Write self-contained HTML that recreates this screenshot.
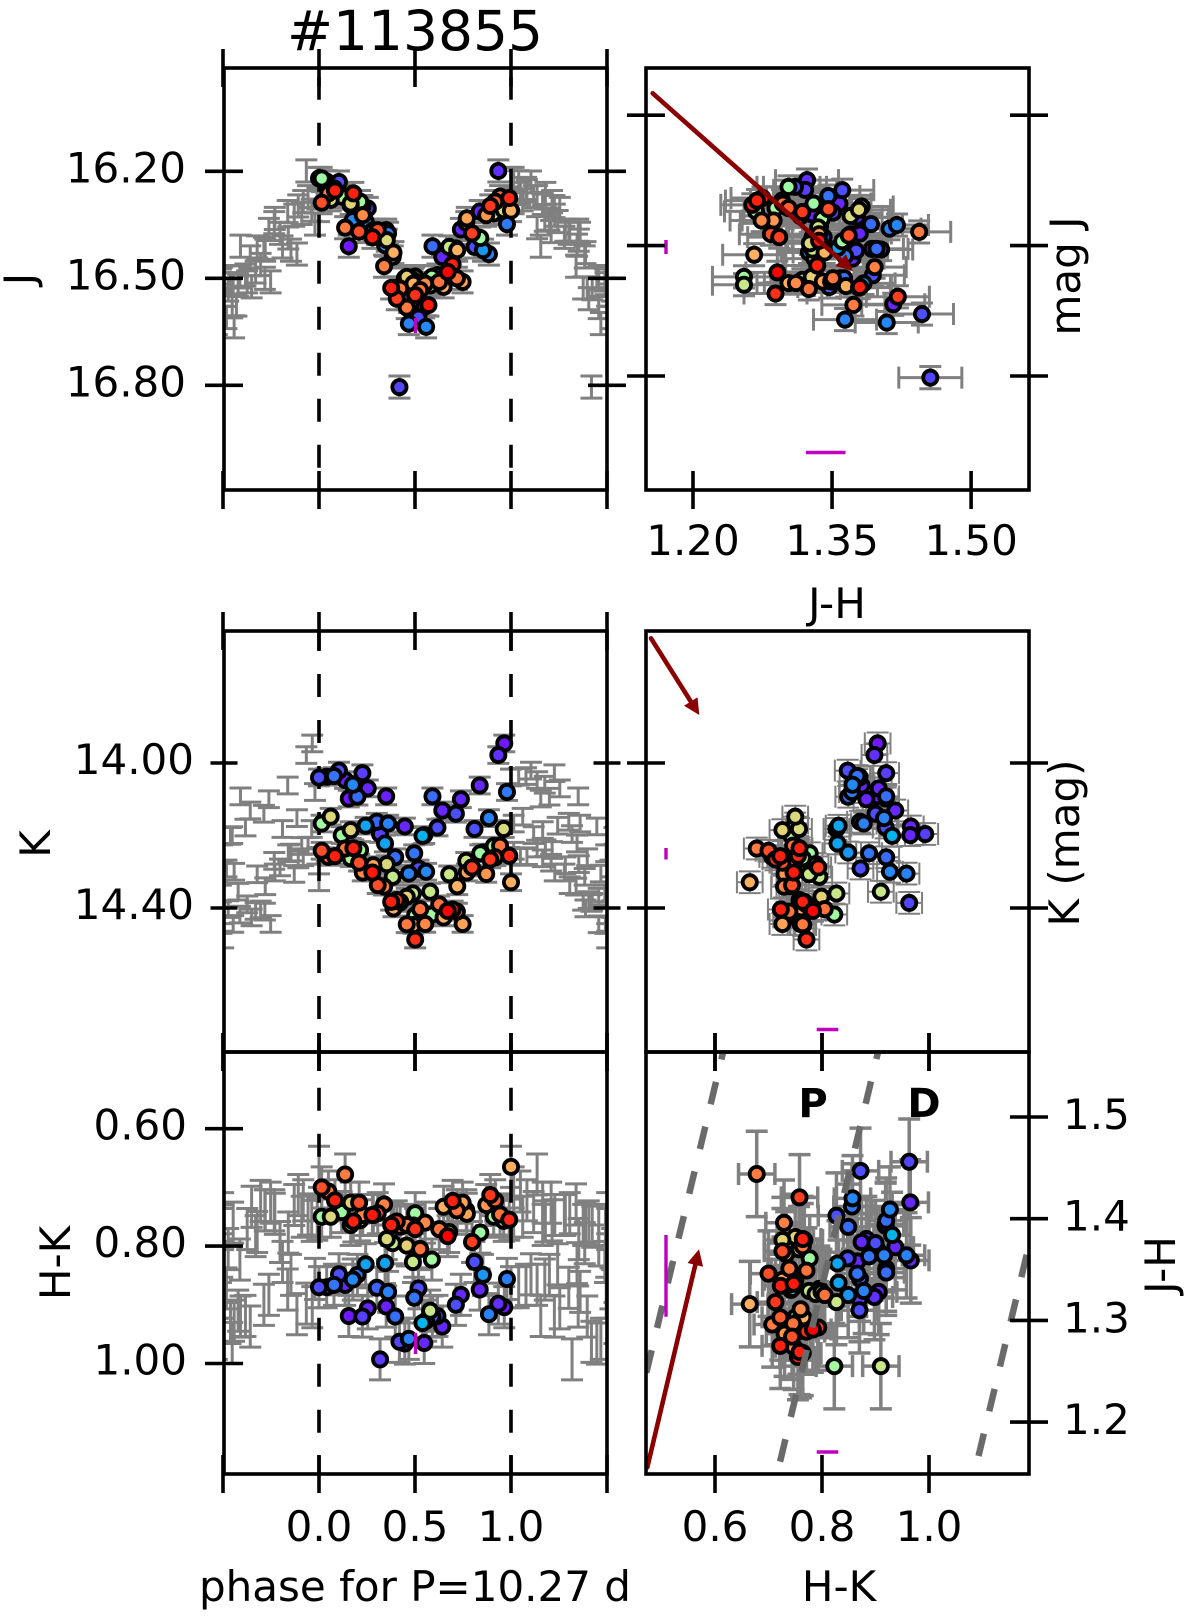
<!DOCTYPE html>
<html lang="en">
<head>
<meta charset="utf-8">
<title>#113855</title>
<style>
html,body{margin:0;padding:0;background:#fff;}
svg{display:block;}
text{font-family:"DejaVu Sans","Liberation Sans",sans-serif;fill:#000;}
</style>
</head>
<body>
<svg id="chart" xmlns="http://www.w3.org/2000/svg" width="1200" height="1620" viewBox="0 0 1200 1620">
<defs>
<clipPath id="c-tl"><rect x="224" y="68" width="383" height="422"/></clipPath>
<clipPath id="c-tr"><rect x="646" y="68" width="383" height="422"/></clipPath>
<clipPath id="c-ml"><rect x="224" y="631" width="383" height="421"/></clipPath>
<clipPath id="c-mr"><rect x="646" y="631" width="383" height="421"/></clipPath>
<clipPath id="c-bl"><rect x="224" y="1052" width="383" height="422"/></clipPath>
<clipPath id="c-br"><rect x="646" y="1052" width="383" height="422"/></clipPath>
</defs>
<rect x="0" y="0" width="1200" height="1620" fill="#fff"/>
<text x="415" y="50" font-size="55" text-anchor="middle">#113855</text>
<text transform="translate(34,279) rotate(-90)" font-size="42" text-anchor="middle">J</text>
<text transform="translate(50,844) rotate(-90)" font-size="42" text-anchor="middle">K</text>
<text transform="translate(70,1263) rotate(-90)" font-size="42" text-anchor="middle">H-K</text>
<text transform="translate(1080,276) rotate(-90)" font-size="42" text-anchor="middle">mag J</text>
<text transform="translate(1079,843) rotate(-90)" font-size="42" text-anchor="middle">K (mag)</text>
<text transform="translate(1175,1265) rotate(-90)" font-size="42" text-anchor="middle">J-H</text>
<text x="837" y="618" font-size="42" text-anchor="middle">J-H</text>
<text x="839" y="1601" font-size="42" text-anchor="middle">H-K</text>
<text x="415" y="1601" font-size="42" text-anchor="middle">phase for P=10.27 d</text>
<g id="plots"></g>
</svg>
<script>
// Observations (one entry per epoch)
const obsPhase = [0.000,.040,.078,.104,.136,.176,.226,.254,.200,.155,.350,.591,.642,.739,.713,.837,.934,.965,.979,
.061,.014,.118,.165,.243,.301,.360,.318,.344,.447,.617,.539,.496,.810,.885,.962,.397,.468,.518,.558,.854,.767,.678,.720,.797,.770,.871,.892,.943,.991,.918,1.000,
.014,.083,.049,.136,.179,.214,.209,.278,.283,.353,.384,.228,.165,.306,.339,.376,.388,.423,.457,.489,.579,.626,.670,.718,.748,.649,.588,.527,.501,.553,.457,.501,
.840,.910,.696,.548,.419,.570,.405,.492];
const obsJ = [16.220,16.229,16.248,16.230,16.271,16.337,16.299,16.304,16.334,16.410,16.365,16.410,16.440,16.363,16.416,16.313,16.199,null,16.348,
16.280,16.220,16.271,16.290,16.341,16.374,16.374,null,16.407,16.500,16.491,16.516,16.500,16.412,16.432,16.309,16.527,16.627,16.610,16.636,16.421,16.344,16.412,16.421,16.374,16.332,16.323,16.297,16.271,16.275,16.285,16.310,
16.288,16.254,16.262,16.358,16.262,16.285,16.369,16.385,16.365,16.393,16.440,16.323,16.295,16.365,16.466,16.527,16.428,16.529,16.496,16.505,16.520,16.510,16.482,16.500,16.510,16.524,16.496,16.533,16.495,16.515,16.582,16.547,
16.387,16.318,16.461,16.580,16.805,16.575,16.557,16.515];
const obsK = [14.040,14.038,14.036,14.021,14.047,14.060,14.028,14.070,14.093,14.098,14.092,14.092,14.131,14.100,14.140,14.062,13.978,13.946,14.080,
14.148,14.167,14.199,14.185,14.173,14.162,14.167,14.196,14.222,14.175,14.178,14.201,14.249,14.182,14.152,14.182,14.260,14.305,14.291,14.300,14.247,14.270,14.307,14.340,14.288,14.302,14.306,14.266,14.228,14.256,14.260,14.329,
14.242,14.257,14.259,14.236,14.235,14.240,14.275,14.302,14.282,14.279,14.314,14.302,14.263,14.337,14.341,14.383,14.401,14.383,14.369,14.360,14.355,14.390,14.408,14.410,14.444,14.426,14.418,14.403,14.420,14.444,14.445,14.487,
14.249,14.229,14.404,14.199,14.386,null,14.378,14.447];
const obsHK = [.870,.870,.866,.848,.866,.857,.920,.906,.849,.919,.903,.920,.937,.883,.900,.874,.898,.904,.856,
.750,.750,.742,.726,.831,.871,.878,.993,.829,.966,.919,.931,.888,.827,.916,.757,.920,.958,.872,.927,.849,.739,.776,.739,.793,.745,.730,.713,.746,.755,.722,.665,
.700,.722,.707,.678,.758,.756,.726,.747,.747,.788,.795,.747,.764,.744,.729,.764,.761,.767,.799,.827,.910,.771,.783,.739,.726,.733,.823,.805,.744,.760,.764,.771,
.777,.750,.723,.965,.963,null,.758,.765];
const obsColor = [.10,.08,.15,.10,.05,.18,.08,.05,.14,.03,.04,.14,.05,.05,.10,.05,.06,.03,.16,
.68,.56,.56,.69,.22,.13,.17,.08,.22,.05,.10,.25,.15,.10,.17,.67,.14,.17,.10,.18,.20,.65,.64,.75,.92,.78,.80,.93,.85,.95,.88,.76,
.90,.96,.84,.84,.96,.58,.90,.97,.78,.68,.63,.82,.60,.90,.83,.96,.76,.84,.70,.64,.64,.85,1.0,.85,.78,.76,.57,.85,.57,.82,.84,.94,
.56,.58,.96,.05,.09,.97,.92,.76];

// Tick values
const phaseTicks = [-0.5,0,0.5,1,1.5];
const phaseTickLabels = ['','0.0','0.5','1.0',''];
const jTicks = [16.2,16.5,16.8];
const jTickLabels = ['16.20','16.50','16.80'];
const kTicks = [14.0,14.4];
const kTickLabels = ['14.00','14.40'];
const hkTicks = [0.6,0.8,1.0];
const hkTickLabels = ['0.60','0.80','1.00'];
const hkShortLabels = ['0.6','0.8','1.0'];
const jhTicks = [1.2,1.35,1.5];
const jhTickLabels = ['1.20','1.35','1.50'];
const jhRightTicks = [1.5,1.4,1.3,1.2];
const jhRightLabels = ['1.5','1.4','1.3','1.2'];
const cmdJTicks = [16.0,16.4,16.8];

// Typical uncertainties
const jErr = 0.031;
const kErr = 0.023;
const hkErr = 0.035;
const cmdJhErr = 0.034;
const cmdJErr = 0.034;
const cmdKErr = 0.030;
const cmdHkErr = 0.024;
const ccdHkErr = 0.034;
const ccdJhErr = 0.042;

// Boundary lines of the colour-colour diagram: [H-K, J-H] end points
const ccdLineA = [[0.6219,1.5785],[0.4600,1.2230]];
const ccdLineB = [[0.9116,1.5790],[0.7100,1.1355]];
const ccdLineC = [[1.1826,1.3646],[1.0900,1.1610]];

// Axis functions
const xPhase = v => 319 + v * 192;
const yJ = v => 171.3 + (v - 16.2) * 356.7;
const yK = v => 763 + (v - 14) * 362.5;
const yHK = v => 1128.7 + (v - 0.6) * 587;
const xJH = v => 693 + (v - 1.2) * 927;
const yCmdJ = v => 376 + (v - 16.8) * 326;
const xHK = v => 715 + (v - 0.6) * 535;
const yJH = v => 1117 + (1.5 - v) * 1017;

const NS = 'http://www.w3.org/2000/svg';
const root = document.getElementById('plots');
function mk(parent, tag, attrs) {
  const el = document.createElementNS(NS, tag);
  for (const k in attrs) el.setAttribute(k, attrs[k]);
  parent.appendChild(el);
  return el;
}
function rainbow(c) {
  const r = Math.min(1, Math.abs(2 * c - 0.5));
  const g = Math.sin(Math.PI * c);
  const b = Math.cos(Math.PI * c / 2);
  return 'rgb(' + Math.round(r * 255) + ',' + Math.round(g * 255) + ',' + Math.round(b * 255) + ')';
}
const order = obsColor.map((c, i) => i).sort((a, b) => obsColor[a] - obsColor[b]);
const GREY = '#808080';
const AXW = 3.6;

function errPath(cx, cy, dx, dy, cap) {
  let d = '';
  if (dy > 0) {
    d += 'M' + cx + ' ' + (cy - dy) + 'V' + (cy + dy);
    d += 'M' + (cx - cap) + ' ' + (cy - dy) + 'H' + (cx + cap);
    d += 'M' + (cx - cap) + ' ' + (cy + dy) + 'H' + (cx + cap);
  }
  if (dx > 0) {
    d += 'M' + (cx - dx) + ' ' + cy + 'H' + (cx + dx);
    d += 'M' + (cx - dx) + ' ' + (cy - cap) + 'V' + (cy + cap);
    d += 'M' + (cx + dx) + ' ' + (cy - cap) + 'V' + (cy + cap);
  }
  return d;
}
function drawMarker(g, cx, cy, c) {
  const m = mk(g, 'circle', {cx: cx, cy: cy, r: 7.1, fill: rainbow(c), stroke: '#000', 'stroke-width': 3.8});
  
  
}
function makePanel(name, clip) {
  const g = mk(root, 'g', {});
  
  
  const inner = mk(g, 'g', {'clip-path': 'url(#' + clip + ')'});
  
  
  return {g: g, inner: inner};
}
function frame(g, x0, y0, x1, y1) {
  const r = mk(g, 'rect', {x: x0, y: y0, width: x1 - x0, height: y1 - y0, fill: 'none', stroke: '#000', 'stroke-width': AXW});
  
  
}
function xTicks(g, values, scale, yPos, half) {
  values.forEach(v => {
    const t = mk(g, 'line', {x1: scale(v), x2: scale(v), y1: yPos - half, y2: yPos + half, stroke: '#000', 'stroke-width': AXW});
    
    
  });
}
function yTicks(g, values, scale, xPos, half) {
  values.forEach(v => {
    const t = mk(g, 'line', {x1: xPos - half, x2: xPos + half, y1: scale(v), y2: scale(v), stroke: '#000', 'stroke-width': AXW});
    
    
  });
}
function label(g, str, x, y, anchor) {
  const t = mk(g, 'text', {x: x, y: y, 'font-size': 42, 'text-anchor': anchor});
  t.textContent = str;
  
  
}
function phaseGuides(g, startY, endY) {
  [0, 1].forEach(v => {
    const l = mk(g, 'line', {x1: xPhase(v), x2: xPhase(v), y1: startY, y2: endY, stroke: '#000', 'stroke-width': AXW, 'stroke-dasharray': '23 23'});
    
    
  });
}
function magentaBar(g, x1, y1, x2, y2) {
  const l = mk(g, 'line', {x1: x1, y1: y1, x2: x2, y2: y2, stroke: '#bf00bf', 'stroke-width': 3.4});
  
  
}
function arrow(g, x1, y1, x2, y2) {
  const a = Math.atan2(y2 - y1, x2 - x1);
  const bx = x2 - 16 * Math.cos(a), by = y2 - 16 * Math.sin(a);
  const nx = -Math.sin(a) * 8, ny = Math.cos(a) * 8;
  const l = mk(g, 'line', {x1: x1, y1: y1, x2: bx, y2: by, stroke: '#8b0000', 'stroke-width': 4.6, 'stroke-linecap': 'round'});
  
  
  const h = mk(g, 'polygon', {points: x2 + ',' + y2 + ' ' + (bx + nx) + ',' + (by + ny) + ' ' + (bx - nx) + ',' + (by - ny), fill: '#8b0000'});
  
  
}
function phasePanel(name, clip, values, yScale, err, guideStart, guideEnd) {
  const p = makePanel(name, clip);
  [-1, 0, 1].forEach(shift => {
    values.forEach((v, i) => {
      if (v === null) return;
      const e = mk(p.inner, 'path', {d: errPath(xPhase(obsPhase[i] + shift), yScale(v), 0, Math.abs(yScale(v + err) - yScale(v)), 11), fill: 'none', stroke: GREY, 'stroke-width': 3});
      
      
    });
  });
  phaseGuides(p.inner, guideStart, guideEnd);
  order.forEach(i => {
    if (values[i] === null) return;
    drawMarker(p.inner, xPhase(obsPhase[i]), yScale(values[i]), obsColor[i]);
  });
  return p;
}
function scatterPanel(name, clip, xv, yv, xs, ys, ex, ey, width) {
  const p = makePanel(name, clip);
  xv.forEach((v, i) => {
    if (v === null || yv[i] === null) return;
    const cx = xs(v), cy = ys(yv[i]);
    const dx = Math.abs(xs(v + ex) - cx), dy = Math.abs(ys(yv[i] + ey) - cy);
    const e = mk(p.inner, 'path', {d: errPath(cx, cy, dx, dy, 11), fill: 'none', stroke: GREY, 'stroke-width': width});
    
    
  });
  order.forEach(i => {
    if (xv[i] === null || yv[i] === null) return;
    drawMarker(p.inner, xs(xv[i]), ys(yv[i]), obsColor[i]);
  });
  return p;
}
const obsJH = obsJ.map((j, i) => (j === null || obsK[i] === null) ? null : j - obsK[i] - obsHK[i]);

// Panel: J vs phase
const pJ = phasePanel('j-phase-panel', 'c-tl', obsJ, yJ, jErr, 76.7, 490);
magentaBar(pJ.inner, 415.5, 318, 415.5, 333);
xTicks(pJ.g, phaseTicks, xPhase, 68, 19);
xTicks(pJ.g, phaseTicks, xPhase, 490, 19);
yTicks(pJ.g, jTicks, yJ, 224, 19);
yTicks(pJ.g, jTicks, yJ, 607, 19);
frame(pJ.g, 224, 68, 607, 490);
jTickLabels.forEach((s, i) => label(pJ.g, s, 186, yJ(jTicks[i]) + 11, 'end'));

// Panel: J vs J-H
const pJH = scatterPanel('j-vs-jh-panel', 'c-tr', obsJH, obsJ, xJH, yCmdJ, cmdJhErr, cmdJErr, 3);
arrow(pJH.inner, 652.7, 93.3, 852.7, 270.7);
magentaBar(pJH.inner, 666, 240, 666, 254);
magentaBar(pJH.inner, 806, 452.5, 845.5, 452.5);
xTicks(pJH.g, jhTicks, xJH, 490, 19);
yTicks(pJH.g, cmdJTicks, yCmdJ, 646, 19);
yTicks(pJH.g, cmdJTicks, yCmdJ, 1029, 19);
frame(pJH.g, 646, 68, 1029, 490);
jhTickLabels.forEach((s, i) => label(pJH.g, s, xJH(jhTicks[i]), 555, 'middle'));

// Panel: K vs phase
const pK = phasePanel('k-phase-panel', 'c-ml', obsK, yK, kErr, 628, 1052);
xTicks(pK.g, phaseTicks, xPhase, 631, 19);
xTicks(pK.g, phaseTicks, xPhase, 1052, 19);
yTicks(pK.g, kTicks, yK, 224, 13.5);
yTicks(pK.g, kTicks, yK, 607, 13.5);
frame(pK.g, 224, 631, 607, 1052);
kTickLabels.forEach((s, i) => label(pK.g, s, 194, yK(kTicks[i]) + 11, 'end'));

// Panel: K vs H-K
const pKH = scatterPanel('k-vs-hk-panel', 'c-mr', obsHK, obsK, xHK, yK, cmdHkErr, cmdKErr, 2);
arrow(pKH.inner, 651, 638.3, 699.3, 715);
magentaBar(pKH.inner, 666, 848, 666, 859.5);
magentaBar(pKH.inner, 816.7, 1029.5, 838.3, 1029.5);
xTicks(pKH.g, hkTicks, xHK, 1052, 19);
yTicks(pKH.g, kTicks, yK, 646, 19);
yTicks(pKH.g, kTicks, yK, 1029, 19);
frame(pKH.g, 646, 631, 1029, 1052);

// Panel: H-K vs phase
const pHK = phasePanel('hk-phase-panel', 'c-bl', obsHK, yHK, hkErr, 1041.7, 1474);
magentaBar(pHK.inner, 415.5, 1333, 415.5, 1354);
xTicks(pHK.g, phaseTicks, xPhase, 1052, 19);
xTicks(pHK.g, phaseTicks, xPhase, 1474, 19);
yTicks(pHK.g, hkTicks, yHK, 224, 19);
frame(pHK.g, 224, 1052, 607, 1474);
hkTickLabels.forEach((s, i) => label(pHK.g, s, 187, yHK(hkTicks[i]) + 11, 'end'));
phaseTickLabels.forEach((s, i) => { if (s) label(pHK.g, s, xPhase(phaseTicks[i]), 1541, 'middle'); });

// Panel: J-H vs H-K
const pCC = scatterPanel('jh-vs-hk-panel', 'c-br', obsHK, obsJH, xHK, yJH, ccdHkErr, ccdJhErr, 3.5);
[ccdLineA, ccdLineB, ccdLineC].forEach(seg => {
  const l = mk(pCC.inner, 'line', {x1: xHK(seg[0][0]), y1: yJH(seg[0][1]), x2: xHK(seg[1][0]), y2: yJH(seg[1][1]), stroke: '#6a6a6a', 'stroke-width': 6.5, 'stroke-dasharray': '23 23'});
  
  
});
arrow(pCC.inner, 647.3, 1467.3, 699, 1249.3);
magentaBar(pCC.inner, 666, 1235, 666, 1316.7);
magentaBar(pCC.inner, 816.7, 1452, 838.3, 1452);
xTicks(pCC.g, hkTicks, xHK, 1052, 19);
xTicks(pCC.g, hkTicks, xHK, 1474, 19);
yTicks(pCC.g, jhRightTicks, yJH, 1029, 19);
frame(pCC.g, 646, 1052, 1029, 1474);
hkShortLabels.forEach((s, i) => label(pCC.g, s, xHK(hkTicks[i]), 1541, 'middle'));
jhRightLabels.forEach((s, i) => label(pCC.g, s, 1063, yJH(jhRightTicks[i]) + 12, 'start'));
const regionP = mk(pCC.g, 'text', {x: 813, y: 1117, 'font-size': 40, 'font-weight': 'bold', 'text-anchor': 'middle'});
regionP.textContent = 'P';


const regionD = mk(pCC.g, 'text', {x: 924, y: 1117, 'font-size': 40, 'font-weight': 'bold', 'text-anchor': 'middle'});
regionD.textContent = 'D';


</script>
</body>
</html>
